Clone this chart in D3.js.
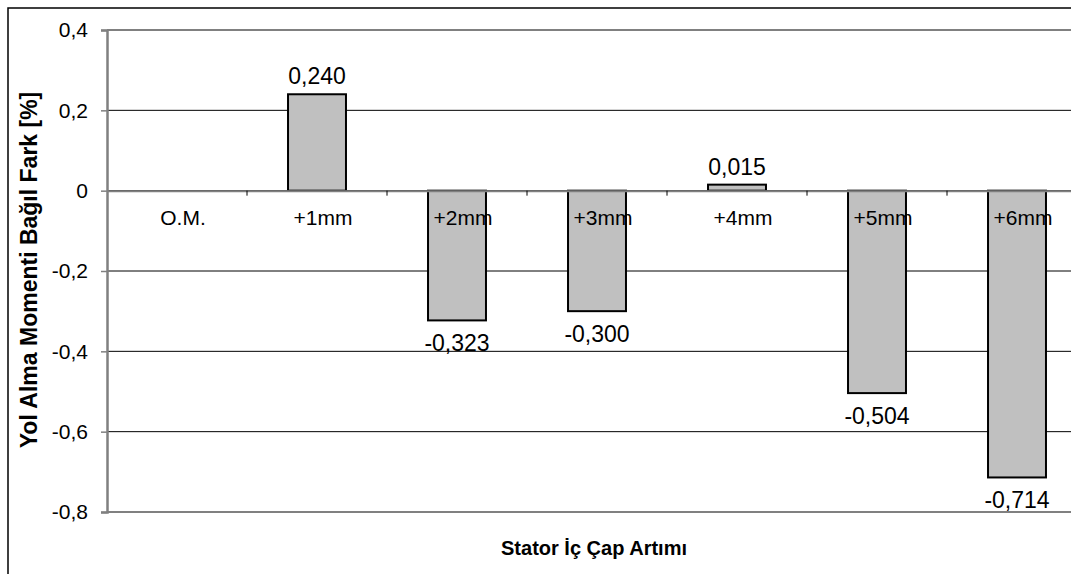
<!DOCTYPE html>
<html>
<head>
<meta charset="utf-8">
<script src="https://cdn.jsdelivr.net/npm/d3@7"></script>
<style>
  body { margin: 0; background: #fff; }
  svg { display: block; font-family: "Liberation Sans", Arial, sans-serif; }
</style>
</head>
<body>
<svg width="1071" height="574"></svg>
<script>
// chart data
const categories = ["O.M.", "+1mm", "+2mm", "+3mm", "+4mm", "+5mm", "+6mm"];
const values = [null, 0.240, -0.323, -0.300, 0.015, -0.504, -0.714];
const yTicks = [0.4, 0.2, 0, -0.2, -0.4, -0.6, -0.8];

const data = categories.map((c, i) => ({cat: c, val: values[i]}));

const svg = d3.select("svg");

// outer chart frame (runs off right and bottom)
svg.append("rect")
  .attr("x", 8).attr("y", 8)
  .attr("width", 1200).attr("height", 700)
  .attr("fill", "none")
  .attr("stroke", "#000")
  .attr("stroke-width", 1.5);

// plot area
const margin = {top: 30, left: 107};
const plotW = 980;
const plotH = 482;
const graph = svg.append("g")
  .attr("transform", `translate(${margin.left},${margin.top})`);

const y = d3.scaleLinear()
  .domain([-0.8, 0.4])
  .range([plotH, 0]);

const x = d3.scaleBand()
  .domain(categories)
  .range([0, plotW])
  .paddingInner(0.586)
  .paddingOuter(0.293);

const fmt = d => d3.format(".3f")(d).replace(".", ",").replace("−", "-");
const tickFmt = d => d === 0 ? "0" : d3.format(".1f")(d).replace(".", ",").replace("−", "-");

// gridlines
graph.selectAll(".grid")
  .data(yTicks)
  .enter().append("line")
  .attr("x1", 0).attr("x2", plotW)
  .attr("y1", d => y(d)).attr("y2", d => y(d))
  .attr("stroke", d => (d === 0.4 || d === -0.8) ? "#808080" : "#000")
  .attr("stroke-width", d => (d === 0.4 || d === -0.8) ? 2 : 1);

// y axis
const yAxis = d3.axisLeft(y)
  .tickValues(yTicks)
  .tickSize(6)
  .tickPadding(13)
  .tickFormat(tickFmt);
const yAxisGroup = graph.append("g").call(yAxis);
yAxisGroup.select(".domain").attr("stroke", "#808080").attr("stroke-width", 2.5);
yAxisGroup.selectAll(".tick line").attr("stroke", "#808080").attr("stroke-width", 1.5);
yAxisGroup.selectAll("text")
  .attr("font-size", 21)
  .attr("fill", "#000")
  .attr("font-family", "Liberation Sans, Arial, sans-serif");

// bars
graph.selectAll(".bar")
  .data(data.filter(d => d.val !== null))
  .enter().append("rect")
  .attr("x", d => x(d.cat))
  .attr("width", x.bandwidth())
  .attr("y", d => y(Math.max(0, d.val)))
  .attr("height", d => Math.abs(y(d.val) - y(0)))
  .attr("fill", "#c0c0c0")
  .attr("stroke", "#000")
  .attr("stroke-width", 2);

// zero line (category axis)
const xAxis = d3.axisBottom(x).tickSize(0).tickFormat("");
const xAxisGroup = graph.append("g")
  .attr("transform", `translate(0,${y(0)})`)
  .call(xAxis);
xAxisGroup.select(".domain").attr("stroke", "#808080").attr("stroke-width", 2);

// tick marks between categories
graph.selectAll(".xtick")
  .data(categories.slice(1))
  .enter().append("line")
  .attr("x1", d => x(d) - x.step() * x.paddingInner() / 2)
  .attr("x2", d => x(d) - x.step() * x.paddingInner() / 2)
  .attr("y1", y(0)).attr("y2", y(0) + 5)
  .attr("stroke", "#000")
  .attr("stroke-width", 1);

// category labels
graph.selectAll(".cat")
  .data(data)
  .enter().append("text")
  .attr("x", d => x(d.cat) + x.bandwidth() / 2 + 6)
  .attr("y", y(0) + 34)
  .attr("text-anchor", "middle")
  .attr("font-size", 21)
  .text(d => d.cat);

// value labels
graph.selectAll(".val")
  .data(data.filter(d => d.val !== null))
  .enter().append("text")
  .attr("x", d => x(d.cat) + x.bandwidth() / 2)
  .attr("y", d => d.val >= 0 ? y(d.val) - 10 : y(d.val) + 31)
  .attr("text-anchor", "middle")
  .attr("font-size", 23)
  .text(d => fmt(d.val));

// axis titles
svg.append("text")
  .attr("x", 594).attr("y", 555)
  .attr("text-anchor", "middle")
  .attr("font-size", 20)
  .attr("font-weight", "bold")
  .text("Stator İç Çap Artımı");

svg.append("text")
  .attr("transform", "translate(37,270) rotate(-90)")
  .attr("text-anchor", "middle")
  .attr("font-size", 23)
  .attr("font-weight", "bold")
  .text("Yol Alma Momenti Bağıl Fark [%]");
</script>
</body>
</html>
